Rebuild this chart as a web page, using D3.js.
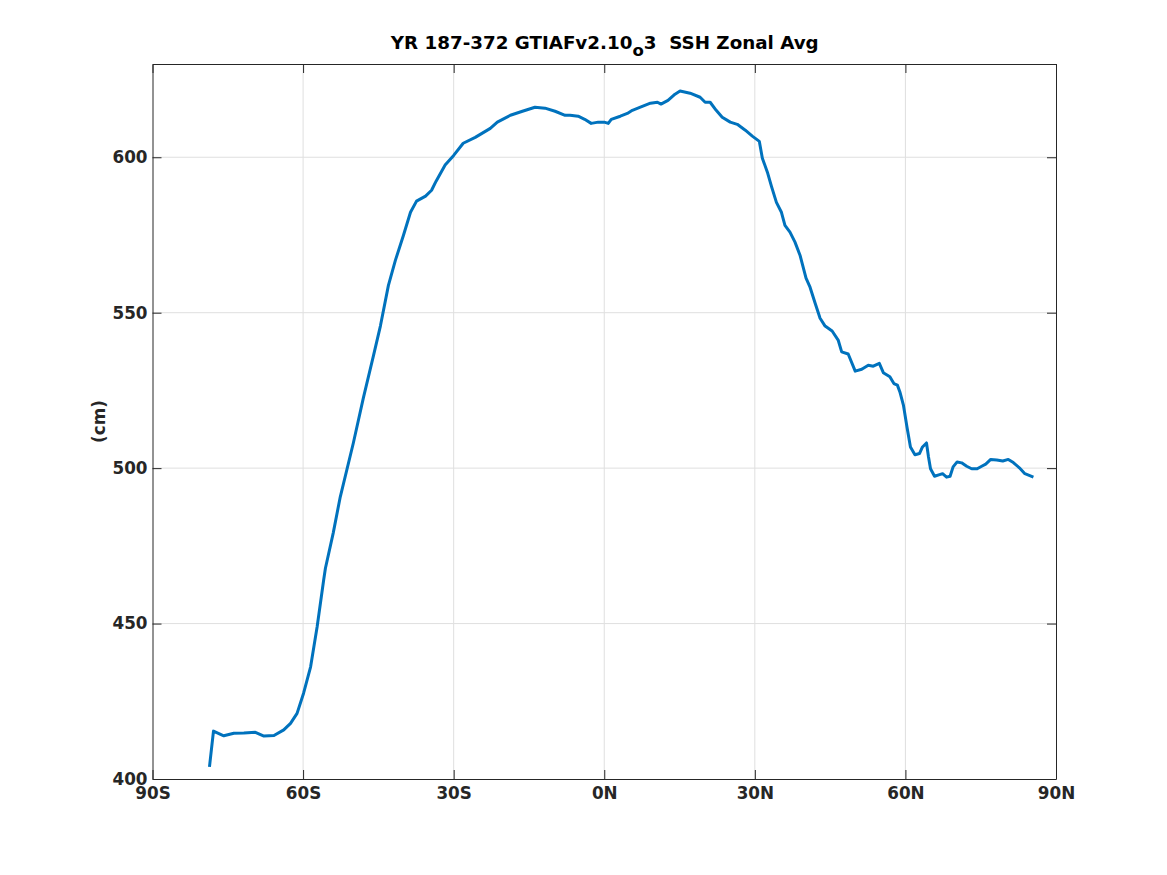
<!DOCTYPE html>
<html>
<head>
<meta charset="utf-8">
<script src="https://cdn.jsdelivr.net/npm/d3@7"></script>
<style>
  html, body { margin: 0; padding: 0; background: #fff; }
  svg { display: block; }
  text { font-family: "DejaVu Sans", sans-serif; font-weight: bold; fill: #262626; }
</style>
</head>
<body>
<svg id="chart" width="1167" height="875"></svg>
<script>
// ---- data ----
const lats = [-78.65,-77.85,-75.8,-73.8,-71.8,-69.5,-67.8,-65.8,-63.85,-62.5,-61.2,-59.9,-58.5,-57.2,-55.9,-55.55,-54.0,-52.6,-50.0,-48.0,-46.0,-44.6,-43.0,-41.6,-40.0,-38.6,-37.4,-35.6,-34.4,-33.5,-31.7,-30.0,-28.1,-25.7,-22.7,-21.3,-18.7,-16.3,-13.8,-11.8,-9.8,-7.8,-6.8,-5.2,-3.9,-2.6,-1.2,0,0.8,1.4,3.2,4.6,5.6,7.2,9.2,10.6,11.3,12.7,14.1,15.1,17.1,19.1,20.1,21.1,22.3,23.5,25.1,26.5,28.1,29.5,30.9,31.5,32.5,33.3,34.3,35.3,36.0,37.0,38.0,39.0,40.2,41.0,42.0,43.0,44.0,45.4,46.6,47.3,48.6,50.0,51.3,52.6,53.6,54.8,55.6,56.9,57.7,58.4,58.9,59.6,60.3,61.0,61.9,62.8,63.4,64.2,64.6,65.0,65.8,66.8,67.4,68.2,68.9,69.5,70.3,71.2,72.2,73.2,74.3,75.2,76.0,77.0,78.2,79.4,80.5,81.5,82.7,83.8,85.5];
const ssh = [403.9,415.4,413.9,414.7,414.8,415.0,413.8,414.0,415.8,417.9,421.1,427.6,436.1,449.0,464.0,467.8,479.1,490.7,508.0,522.5,536.0,545.7,558.8,566.9,574.9,582.3,585.9,587.5,589.4,592.3,597.5,600.6,604.5,606.4,609.3,611.3,613.5,614.8,616.1,615.8,614.8,613.5,613.5,613.2,612.2,610.9,611.3,611.3,610.9,612.2,613.2,614.1,615.1,616.1,617.4,617.7,617.1,618.3,620.3,621.3,620.6,619.3,617.7,617.7,615.1,612.9,611.3,610.6,608.7,606.8,605.1,599.7,595.2,590.7,585.5,582.3,578.1,575.9,572.7,568.5,561.1,558.2,553.1,548.2,545.7,544.1,541.2,537.4,536.7,531.2,531.8,533.1,532.8,533.7,530.7,529.4,527.2,526.7,524.5,520.3,513.3,506.8,504.3,504.7,506.8,508.1,503.6,499.8,497.4,497.9,498.2,497.1,497.4,500.4,502.0,501.7,500.6,499.8,499.8,500.6,501.3,502.8,502.6,502.3,502.8,501.8,500.1,498.2,497.1];
const xTickVals = [-90,-60,-30,0,30,60,90];
const xTickLabels = ["90S","60S","30S","0N","30N","60N","90N"];
const yTickVals = [400,450,500,550,600];
const xDomain = [-90, 90];
const yDomain = [400, 630];

// ---- layout ----
const L = 152.5, R = 1056, T = 64, B = 779;
const svg = d3.select("#chart");
const x = d3.scaleLinear().domain(xDomain).range([L, R]);
const y = d3.scaleLinear().domain(yDomain).range([B, T]);
const axisColor = "#262626";
const tickLen = 9;
const tickFont = 16.8;

// grid
const grid = svg.append("g");
grid.selectAll("line.gx").data(xTickVals.slice(1, -1)).join("line")
  .attr("x1", d => x(d)).attr("x2", d => x(d)).attr("y1", T).attr("y2", B)
  .attr("stroke", "#dfdfdf").attr("stroke-width", 1);
grid.selectAll("line.gy").data(yTickVals.filter(v => v > yDomain[0])).join("line")
  .attr("x1", L).attr("x2", R).attr("y1", d => y(d)).attr("y2", d => y(d))
  .attr("stroke", "#dfdfdf").attr("stroke-width", 1);

// axes (inward ticks, MATLAB style)
const fmtX = d => xTickLabels[xTickVals.indexOf(d)];
const xAxisB = d3.axisBottom(x).tickValues(xTickVals).tickFormat(fmtX).tickSizeInner(-tickLen).tickSizeOuter(0).tickPadding(8);
const xAxisT = d3.axisTop(x).tickValues(xTickVals).tickFormat("").tickSizeInner(-tickLen).tickSizeOuter(0);
const yAxisL = d3.axisLeft(y).tickValues(yTickVals).tickFormat(d3.format("d")).tickSizeInner(-tickLen).tickSizeOuter(0).tickPadding(5);
const yAxisR = d3.axisRight(y).tickValues(yTickVals).tickFormat("").tickSizeInner(-tickLen).tickSizeOuter(0);

function style(g) {
  g.select(".domain").attr("stroke", axisColor).attr("stroke-width", 1);
  g.selectAll(".tick line").attr("stroke", axisColor).attr("stroke-width", 1);
  g.selectAll(".tick text").attr("font-size", tickFont).attr("font-family", "DejaVu Sans").attr("font-weight", "bold").attr("fill", axisColor);
}
svg.append("g").attr("transform", `translate(0,${B})`).call(xAxisB).call(style);
svg.append("g").attr("transform", `translate(0,${T})`).call(xAxisT).call(style);
svg.append("g").attr("transform", `translate(${L},0)`).call(yAxisL).call(style);
svg.append("g").attr("transform", `translate(${R},0)`).call(yAxisR).call(style);

// line
const line = d3.line().x((d, i) => x(lats[i])).y((d, i) => y(ssh[i]));
svg.append("path").datum(ssh)
  .attr("d", line).attr("fill", "none")
  .attr("stroke", "#0072BD").attr("stroke-width", 3)
  .attr("stroke-linejoin", "round").attr("stroke-linecap", "butt");

// title
const title = svg.append("text").attr("x", (L + R) / 2 + 0.5).attr("y", 48.5)
  .attr("text-anchor", "middle").attr("font-size", 18.3)
  .attr("xml:space", "preserve").style("white-space", "pre").style("fill", "#000");
title.append("tspan").text("YR 187-372 GTIAFv2.10");
title.append("tspan").attr("dy", 7).attr("font-size", 16.5).text("o");
title.append("tspan").attr("dy", -7).text("3  SSH Zonal Avg");

// y label
svg.append("text").attr("transform", `translate(104.5,${(T + B) / 2}) rotate(-90)`)
  .attr("text-anchor", "middle").attr("font-size", 16.8).text("(cm)");
</script>
</body>
</html>
